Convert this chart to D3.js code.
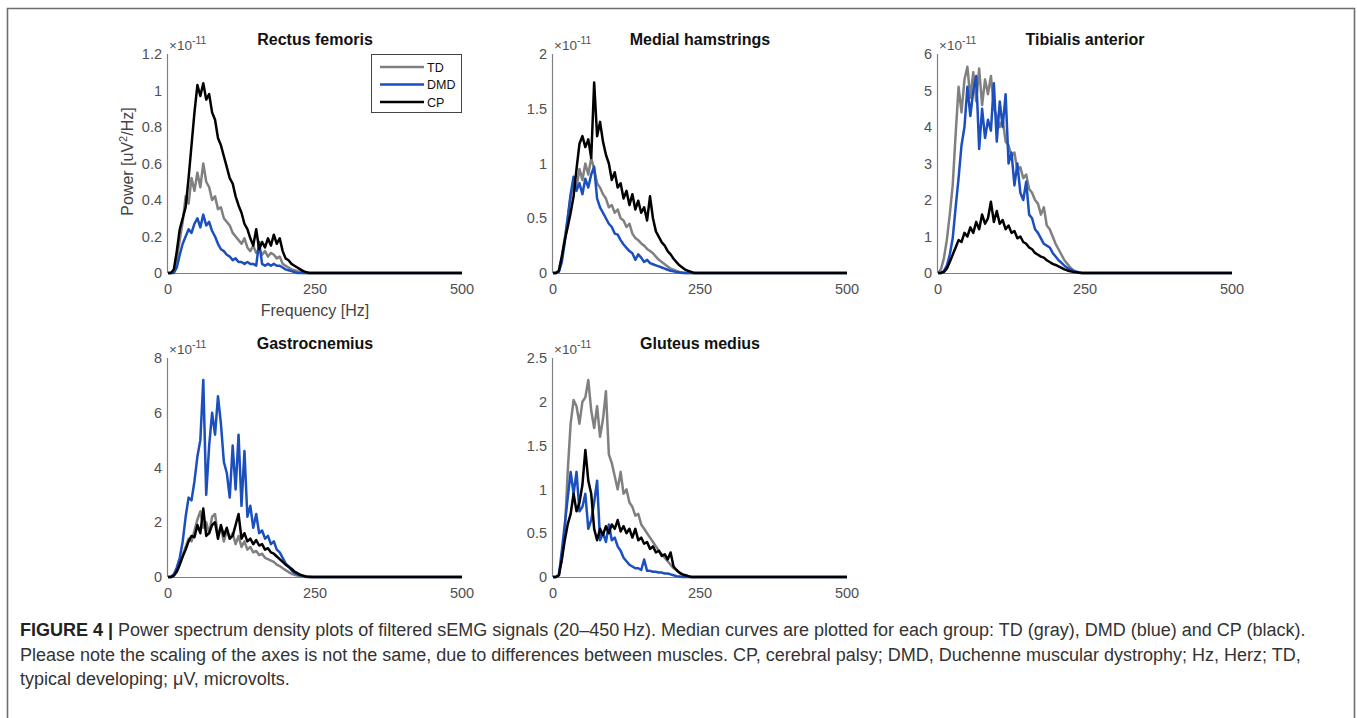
<!DOCTYPE html>
<html>
<head>
<meta charset="utf-8">
<script src="https://cdn.jsdelivr.net/npm/d3@7"></script>
<style>
  body { margin: 0; background: #fff; }
  svg { display: block; font-family: "Liberation Sans", Arial, Helvetica, sans-serif; }
  .tick-label { fill: #505050; font-size: 14.5px; }
  .panel-title { fill: #111; font-size: 16px; font-weight: bold; }
  .caption { fill: #333; font-size: 18px; }
</style>
</head>
<body>
<div id="chart"></div>
<script>
// frequency grid of the median curves (Hz)
const FREQ = [0, 5, 10, 15, 20, 25, 30, 35, 40, 45, 50, 55, 60, 65, 70, 75, 80, 85, 90, 95,
  100, 105, 110, 115, 120, 125, 130, 135, 140, 145, 150, 155, 160, 165, 170, 175, 180, 185, 190, 195,
  200, 205, 210, 215, 220, 225, 230, 235, 240, 245, 250, 500];

const GROUPS = ["TD", "DMD", "CP"];

// power values in units of 1e-11 uV^2/Hz
const RECTUS_TD = [0, 0, 0.01, 0.08, 0.18, 0.28, 0.42, 0.38, 0.52, 0.45,
  0.55, 0.47, 0.60, 0.50, 0.47, 0.40, 0.42, 0.35, 0.36, 0.30,
  0.28, 0.26, 0.22, 0.20, 0.18, 0.16, 0.19, 0.14, 0.12, 0.15,
  0.11, 0.13, 0.10, 0.12, 0.09, 0.11, 0.10, 0.08, 0.09, 0.05,
  0.04, 0.03, 0.02, 0.015, 0.01, 0.005, 0, 0, 0, 0, 0, 0];
const RECTUS_DMD = [0, 0, 0, 0.03, 0.10, 0.16, 0.20, 0.24, 0.22, 0.27,
  0.30, 0.25, 0.32, 0.26, 0.28, 0.23, 0.20, 0.16, 0.13, 0.12,
  0.10, 0.09, 0.07, 0.08, 0.06, 0.06, 0.05, 0.06, 0.05, 0.05,
  0.04, 0.17, 0.05, 0.04, 0.05, 0.04, 0.05, 0.04, 0.04, 0.03,
  0.02, 0.015, 0.01, 0.005, 0, 0, 0, 0, 0, 0, 0, 0];
const RECTUS_CP = [0, 0, 0.02, 0.12, 0.24, 0.30, 0.36, 0.52, 0.70, 0.88,
  1.03, 0.97, 1.04, 0.95, 0.98, 0.88, 0.84, 0.74, 0.70, 0.64,
  0.58, 0.52, 0.49, 0.42, 0.37, 0.33, 0.27, 0.24, 0.19, 0.15,
  0.24, 0.13, 0.17, 0.14, 0.19, 0.15, 0.21, 0.16, 0.19, 0.12,
  0.08, 0.07, 0.05, 0.04, 0.03, 0.02, 0.01, 0.005, 0, 0, 0, 0];

const HAMSTRINGS_TD = [0, 0, 0.02, 0.15, 0.32, 0.5, 0.7, 0.82, 0.78, 0.95,
  0.85, 1.0, 0.9, 1.05, 0.95, 0.82, 0.78, 0.72, 0.68, 0.6,
  0.62, 0.55, 0.58, 0.5, 0.48, 0.42, 0.45, 0.36, 0.32, 0.3,
  0.27, 0.25, 0.22, 0.2, 0.18, 0.15, 0.12, 0.1, 0.08, 0.06,
  0.04, 0.03, 0.02, 0.01, 0.005, 0, 0, 0, 0, 0, 0, 0];
const HAMSTRINGS_DMD = [0, 0, 0.01, 0.1, 0.28, 0.5, 0.72, 0.88, 0.75, 0.82,
  0.72, 0.86, 0.78, 0.9, 0.97, 0.68, 0.6, 0.55, 0.5, 0.45,
  0.42, 0.36, 0.35, 0.3, 0.26, 0.23, 0.2, 0.18, 0.12, 0.17,
  0.14, 0.1, 0.12, 0.09, 0.08, 0.07, 0.06, 0.05, 0.04, 0.03,
  0.02, 0.015, 0.01, 0.005, 0, 0, 0, 0, 0, 0, 0, 0];
const HAMSTRINGS_CP = [0, 0, 0.02, 0.15, 0.3, 0.42, 0.55, 0.7, 0.95, 1.18,
  1.25, 1.15, 1.22, 1.05, 1.74, 1.25, 1.38, 1.2, 1.08, 1.0,
  0.85, 0.92, 0.78, 0.82, 0.68, 0.75, 0.62, 0.72, 0.58, 0.66,
  0.55, 0.6, 0.48, 0.7, 0.5, 0.38, 0.33, 0.28, 0.25, 0.2,
  0.17, 0.13, 0.1, 0.07, 0.05, 0.03, 0.02, 0.01, 0, 0, 0, 0];

const TIBIALIS_TD = [0, 0.1, 0.4, 0.9, 1.6, 2.4, 3.8, 5.1, 4.4, 5.3,
  5.65, 4.8, 5.5, 4.7, 5.6, 4.6, 5.3, 4.9, 5.4, 4.5,
  4.3, 4.0, 4.2, 3.6, 3.5, 3.2, 3.3, 2.8, 2.9, 2.6,
  2.7, 2.3, 2.2, 2.0, 1.9, 1.6, 1.8, 1.3, 1.2, 1.0,
  0.8, 0.65, 0.5, 0.35, 0.25, 0.15, 0.08, 0.04, 0.02, 0, 0, 0];
const TIBIALIS_DMD = [0, 0, 0.05, 0.2, 0.5, 0.95, 1.8, 2.6, 3.5, 4.0,
  5.1, 4.3, 5.0, 5.4, 3.4, 4.5, 3.7, 4.2, 3.9, 5.2,
  3.6, 4.7, 4.0, 4.9, 3.0, 3.3, 2.4, 3.0, 2.2, 2.0,
  2.5, 1.6, 1.5, 1.2, 1.1, 0.95, 0.8, 0.75, 0.7, 0.55,
  0.45, 0.35, 0.28, 0.2, 0.14, 0.1, 0.06, 0.03, 0.01, 0, 0, 0];
const TIBIALIS_CP = [0, 0, 0.03, 0.12, 0.3, 0.5, 0.7, 0.9, 0.85, 1.1,
  1.0, 1.25, 1.1, 1.4, 1.2, 1.6, 1.35, 1.5, 1.95, 1.4,
  1.7, 1.35, 1.45, 1.2, 1.3, 1.1, 1.15, 0.95, 1.0, 0.85,
  0.8, 0.7, 0.65, 0.55, 0.5, 0.45, 0.42, 0.35, 0.3, 0.25,
  0.22, 0.18, 0.14, 0.1, 0.07, 0.05, 0.03, 0.02, 0.01, 0, 0, 0];

const GASTRO_TD = [0, 0, 0.05, 0.2, 0.5, 0.8, 1.1, 1.4, 1.3, 1.7,
  2.1, 2.4, 1.8, 2.0, 1.6, 2.2, 2.3, 1.5, 1.8, 1.3,
  1.7, 1.4, 1.6, 1.2, 1.5, 1.1, 1.3, 1.0, 1.1, 0.9,
  0.95, 0.8, 0.85, 0.7, 0.65, 0.6, 0.55, 0.45, 0.4, 0.32,
  0.25, 0.18, 0.12, 0.08, 0.05, 0.03, 0.01, 0, 0, 0, 0, 0];
const GASTRO_DMD = [0, 0, 0.1, 0.35, 0.7, 1.3, 2.2, 2.9, 2.8, 3.5,
  4.4, 5.0, 7.2, 3.0, 4.8, 6.0, 5.2, 6.6, 5.6, 4.2,
  3.8, 2.9, 4.8, 3.2, 5.2, 2.6, 4.6, 2.2, 2.6, 1.8,
  2.3, 1.6, 1.7, 1.4, 1.5, 1.2, 1.3, 1.0, 0.9, 0.7,
  0.5, 0.38, 0.25, 0.15, 0.1, 0.06, 0.03, 0.01, 0, 0, 0, 0];
const GASTRO_CP = [0, 0, 0.05, 0.2, 0.45, 0.75, 1.0, 1.3, 1.5, 1.45,
  1.9, 1.6, 2.5, 1.5, 1.6, 1.9, 2.0, 1.4, 1.9, 1.5,
  1.8, 1.4, 1.5, 1.9, 2.3, 1.4, 1.6, 1.3, 1.4, 1.2,
  1.35, 1.15, 1.2, 1.0, 1.05, 0.9, 0.85, 0.75, 0.65, 0.55,
  0.45, 0.38, 0.3, 0.2, 0.14, 0.08, 0.05, 0.02, 0.01, 0, 0, 0];

const GLUTEUS_TD = [0, 0, 0.03, 0.2, 0.5, 1.2, 1.75, 2.02, 1.95, 1.75,
  2.0, 2.05, 2.25, 1.9, 1.7, 1.95, 1.6, 1.8, 2.12, 1.4,
  1.3, 1.15, 1.0, 1.2, 0.95, 1.0, 0.85, 0.8, 0.7, 0.72,
  0.6, 0.55, 0.5, 0.45, 0.4, 0.35, 0.3, 0.26, 0.22, 0.18,
  0.14, 0.1, 0.08, 0.05, 0.03, 0.02, 0.01, 0, 0, 0, 0, 0];
const GLUTEUS_DMD = [0, 0, 0.02, 0.3, 0.6, 0.9, 1.2, 0.95, 1.2, 0.75,
  0.8, 0.95, 0.55, 0.65, 0.85, 1.1, 0.42, 0.5, 0.4, 0.6,
  0.42, 0.45, 0.35, 0.3, 0.22, 0.18, 0.14, 0.12, 0.1, 0.1,
  0.08, 0.2, 0.07, 0.07, 0.06, 0.06, 0.05, 0.05, 0.04, 0.04,
  0.03, 0.02, 0.01, 0.005, 0, 0, 0, 0, 0, 0, 0, 0];
const GLUTEUS_CP = [0, 0, 0.02, 0.2, 0.42, 0.6, 0.72, 0.95, 0.75, 0.85,
  1.05, 1.45, 1.1, 0.95, 0.55, 0.42, 0.55, 0.48, 0.58, 0.5,
  0.6, 0.55, 0.65, 0.52, 0.58, 0.5, 0.55, 0.45, 0.55, 0.42,
  0.45, 0.38, 0.4, 0.32, 0.35, 0.28, 0.3, 0.24, 0.26, 0.2,
  0.28, 0.12, 0.08, 0.05, 0.03, 0.02, 0.01, 0, 0, 0, 0, 0];

const X_TICKS = [0, 250, 500];
const Y_TICKS_RECTUS = [0, 0.2, 0.4, 0.6, 0.8, 1, 1.2];
const Y_TICKS_HAMSTRINGS = [0, 0.5, 1, 1.5, 2];
const Y_TICKS_TIBIALIS = [0, 1, 2, 3, 4, 5, 6];
const Y_TICKS_GASTRO = [0, 2, 4, 6, 8];
const Y_TICKS_GLUTEUS = [0, 0.5, 1, 1.5, 2, 2.5];

const CAPTION_LINES = [
  { bold: "FIGURE 4 | ", text: "Power spectrum density plots of filtered sEMG signals (20\u2013450\u2009Hz). Median curves are plotted for each group: TD (gray), DMD (blue) and CP (black)." },
  { bold: "", text: "Please note the scaling of the axes is not the same, due to differences between muscles. CP, cerebral palsy; DMD, Duchenne muscular dystrophy; Hz, Herz; TD," },
  { bold: "", text: "typical developing; \u03bcV, microvolts." },
];

const GROUP_COLORS = { TD: "#808080", DMD: "#1b4fbd", CP: "#000000" };

const PANELS = [
  { title: "Rectus femoris", col: 0, row: 0, yMax: 1.2, yTicks: Y_TICKS_RECTUS,
    series: { TD: RECTUS_TD, DMD: RECTUS_DMD, CP: RECTUS_CP }, axisLabels: true, legend: true },
  { title: "Medial hamstrings", col: 1, row: 0, yMax: 2, yTicks: Y_TICKS_HAMSTRINGS,
    series: { TD: HAMSTRINGS_TD, DMD: HAMSTRINGS_DMD, CP: HAMSTRINGS_CP } },
  { title: "Tibialis anterior", col: 2, row: 0, yMax: 6, yTicks: Y_TICKS_TIBIALIS,
    series: { TD: TIBIALIS_TD, DMD: TIBIALIS_DMD, CP: TIBIALIS_CP } },
  { title: "Gastrocnemius", col: 0, row: 1, yMax: 8, yTicks: Y_TICKS_GASTRO,
    series: { TD: GASTRO_TD, DMD: GASTRO_DMD, CP: GASTRO_CP } },
  { title: "Gluteus medius", col: 1, row: 1, yMax: 2.5, yTicks: Y_TICKS_GLUTEUS,
    series: { TD: GLUTEUS_TD, DMD: GLUTEUS_DMD, CP: GLUTEUS_CP } },
];

const width = 1357;
const height = 718;
const COL_X = [168, 553, 938];
const ROW_Y = [54, 358];
const PLOT_W = 294;
const PLOT_H = 219;

const svg = d3.select("#chart").append("svg")
  .attr("width", width)
  .attr("height", height);

// figure frame (runs past the bottom edge)
svg.append("path")
  .attr("d", `M7.5,730 V8.5 H1354.5 V730`)
  .attr("fill", "none")
  .attr("stroke", "#6e6e6e")
  .attr("stroke-width", 1.6);

function renderPanel(p) {
  const x0 = COL_X[p.col];
  const y0 = ROW_Y[p.row];

  const x = d3.scaleLinear().domain([0, 500]).range([x0, x0 + PLOT_W]);
  const y = d3.scaleLinear().domain([0, p.yMax]).range([y0 + PLOT_H, y0]);

  const g = svg.append("g").attr("class", "panel");

  // axes, MATLAB style with box off
  g.append("line")
    .attr("x1", x(0)).attr("x2", x(500))
    .attr("y1", y(0) + 0.5).attr("y2", y(0) + 0.5)
    .attr("stroke", "#808080").attr("stroke-width", 1.2);
  g.append("line")
    .attr("x1", x(0) - 0.5).attr("x2", x(0) - 0.5)
    .attr("y1", y(0)).attr("y2", y(p.yMax))
    .attr("stroke", "#808080").attr("stroke-width", 1.2);

  g.selectAll(".ytick")
    .data(p.yTicks)
    .enter()
    .append("text")
    .attr("class", "tick-label")
    .attr("x", x(0) - 6)
    .attr("y", d => y(d))
    .attr("dy", "0.36em")
    .attr("text-anchor", "end")
    .text(d => d3.format("~g")(d));

  g.selectAll(".xtick")
    .data(X_TICKS)
    .enter()
    .append("text")
    .attr("class", "tick-label")
    .attr("x", d => x(d))
    .attr("y", y(0) + 21)
    .attr("text-anchor", "middle")
    .text(d => d);

  // exponent marker
  const expo = g.append("text")
    .attr("x", x(0) + 1)
    .attr("y", y(p.yMax) - 4)
    .attr("fill", "#505050")
    .style("font-size", "13.5px");
  expo.append("tspan").text("\u00d710");
  expo.append("tspan").attr("dy", -6).style("font-size", "10.5px").text("-11");

  g.append("text")
    .attr("class", "panel-title")
    .attr("x", x(250))
    .attr("y", y0 - 9)
    .attr("text-anchor", "middle")
    .text(p.title);

  const line = d3.line()
    .x((d, i) => x(FREQ[i]))
    .y(d => y(d));

  GROUPS.forEach(grp => {
    g.append("path")
      .datum(p.series[grp])
      .attr("d", line)
      .attr("fill", "none")
      .attr("stroke", GROUP_COLORS[grp])
      .attr("stroke-width", 2.5)
      .attr("stroke-linejoin", "round");
  });

  if (p.axisLabels) {
    g.append("text")
      .attr("x", x(250))
      .attr("y", y(0) + 43)
      .attr("text-anchor", "middle")
      .attr("fill", "#444")
      .style("font-size", "16px")
      .text("Frequency [Hz]");

    const yl = g.append("text")
      .attr("transform", `translate(${x0 - 35},${y0 + PLOT_H / 2 - 2}) rotate(-90)`)
      .attr("text-anchor", "middle")
      .attr("fill", "#444")
      .style("font-size", "16px");
    yl.append("tspan").text("Power [uV");
    yl.append("tspan").attr("dy", -6).style("font-size", "11px").text("2");
    yl.append("tspan").attr("dy", 6).text("/Hz]");
  }

  if (p.legend) {
    const lx = x0 + PLOT_W - 91;
    const ly = y0;
    const leg = g.append("g");
    leg.append("rect")
      .attr("x", lx + 0.5).attr("y", ly + 0.5)
      .attr("width", 90).attr("height", 58)
      .attr("fill", "#fff")
      .attr("stroke", "#444").attr("stroke-width", 1);
    GROUPS.forEach((grp, i) => {
      const cy = ly + 13 + i * 17.5;
      leg.append("line")
        .attr("x1", lx + 9).attr("x2", lx + 53)
        .attr("y1", cy).attr("y2", cy)
        .attr("stroke", GROUP_COLORS[grp]).attr("stroke-width", 2.5);
      leg.append("text")
        .attr("x", lx + 56).attr("y", cy)
        .attr("dy", "0.36em")
        .style("font-size", "12.5px")
        .attr("fill", "#111")
        .text(grp);
    });
  }
}

PANELS.forEach(renderPanel);

// caption
CAPTION_LINES.forEach((ln, i) => {
  const t = svg.append("text")
    .attr("class", "caption")
    .attr("x", 20)
    .attr("y", 636 + i * 24.5);
  if (ln.bold) {
    t.append("tspan").style("font-weight", "bold").attr("fill", "#222").text(ln.bold);
  }
  t.append("tspan").text(ln.text);
});
</script>
</body>
</html>
